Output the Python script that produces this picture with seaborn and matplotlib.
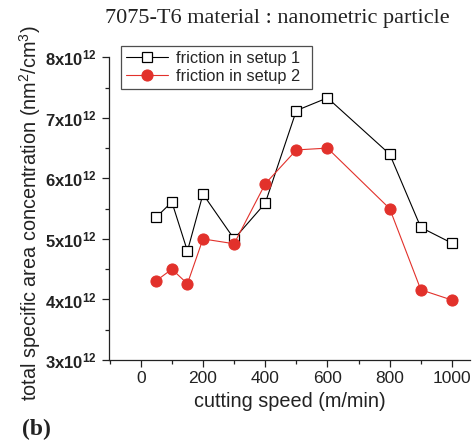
import matplotlib
matplotlib.use("Agg")
import matplotlib.pyplot as plt
from matplotlib.ticker import MultipleLocator, FixedLocator
import seaborn as sns
import pandas as pd

speed = [50, 100, 150, 200, 300, 400, 500, 600, 800, 900, 1000]
setup1 = [5.36, 5.61, 4.80, 5.74, 5.00, 5.59, 7.12, 7.33, 6.40, 5.19, 4.93]
setup2 = [4.31, 4.50, 4.26, 5.00, 4.92, 5.91, 6.47, 6.50, 5.50, 4.16, 3.99]
series_names = ["friction in setup 1", "friction in setup 2"]
yticks = [3, 4, 5, 6, 7, 8]
xticks = [0, 200, 400, 600, 800, 1000]

sns.set_theme(style="ticks")
plt.rcParams["font.family"] = ["Liberation Sans", "DejaVu Sans"]
plt.rcParams["mathtext.fontset"] = "custom"
plt.rcParams["mathtext.rm"] = "Liberation Sans"
plt.rcParams["mathtext.bf"] = "Liberation Sans:bold"

df = pd.DataFrame({
    "speed": speed * 2,
    "value": [v * 1e12 for v in setup1] + [v * 1e12 for v in setup2],
    "series": [series_names[0]] * len(speed) + [series_names[1]] * len(speed),
})

W, H = 475, 447
fig = plt.figure(figsize=(W / 100, H / 100), dpi=100)
ax_l, ax_r, ax_t, ax_b = 109, 470, 57.3, 360
aw, ah = ax_r - ax_l, ax_b - ax_t
ax = fig.add_axes([ax_l / W, (H - ax_b) / H, aw / W, ah / H])

red = "#e2312b"
sns.lineplot(data=df[df.series == series_names[0]], x="speed", y="value",
             ax=ax, color="black", lw=0.8, marker="s", markersize=7,
             markerfacecolor="white", markeredgecolor="black",
             markeredgewidth=0.9, label=series_names[0])
sns.lineplot(data=df[df.series == series_names[1]], x="speed", y="value",
             ax=ax, color=red, lw=0.8, marker="o", markersize=8,
             markerfacecolor=red, markeredgecolor=red,
             label=series_names[1])

ax.set_xlim(-102, 1058)
ax.set_ylim(3e12, 8e12)
ax.xaxis.set_major_locator(FixedLocator(xticks))
ax.xaxis.set_minor_locator(MultipleLocator(100))
ax.yaxis.set_major_locator(FixedLocator([t * 1e12 for t in yticks]))
ax.yaxis.set_minor_locator(MultipleLocator(0.5e12))
ax.set_yticklabels([r"$\mathbf{%dx10^{12}}$" % t for t in yticks])
ax.tick_params(axis="both", which="major", direction="out", length=5,
               width=0.9, colors="#222222", labelcolor="#222222")
ax.tick_params(axis="both", which="minor", direction="out", length=3,
               width=0.9, colors="#222222")
ax.tick_params(axis="x", labelsize=12.5, pad=3)
ax.tick_params(axis="y", labelsize=12, pad=4)
for s in ("top", "right"):
    ax.spines[s].set_visible(False)
for s in ("left", "bottom"):
    ax.spines[s].set_linewidth(0.9)
    ax.spines[s].set_color("#222222")

ax.set_xlabel("cutting speed (m/min)", fontsize=14.3, color="#222222", labelpad=4.5)
ax.set_ylabel(r"total specific area concentration (nm$^2$/cm$^3$)",
              fontsize=14.3, color="#222222", labelpad=1)
ax.yaxis.label.set_y(0.485)

leg_x0, leg_x1, leg_top = 120.7, 311.7, 45.7
leg = ax.legend(loc="upper left",
                bbox_to_anchor=((leg_x0 - ax_l) / aw, (ax_b - leg_top) / ah,
                                (leg_x1 - leg_x0) / aw, 0.0),
                mode="expand", frameon=True, fancybox=False, fontsize=11.8,
                handlelength=2.6, borderpad=0.3, labelspacing=0.2,
                handletextpad=0.5, borderaxespad=0)
leg.get_frame().set_edgecolor("#222222")
leg.get_frame().set_linewidth(0.9)

fig.text(277 / W, 1 - 18 / H, "7075-T6 material : nanometric particle",
         ha="center", va="center", fontsize=16,
         family=["Liberation Serif", "DejaVu Serif"], color="#222222")
fig.text(22 / W, 1 - 429 / H, "(b)", ha="left", va="center", fontsize=17,
         fontweight="bold", family=["Liberation Serif", "DejaVu Serif"],
         color="#222222")

fig.savefig("out.png", dpi=100)
